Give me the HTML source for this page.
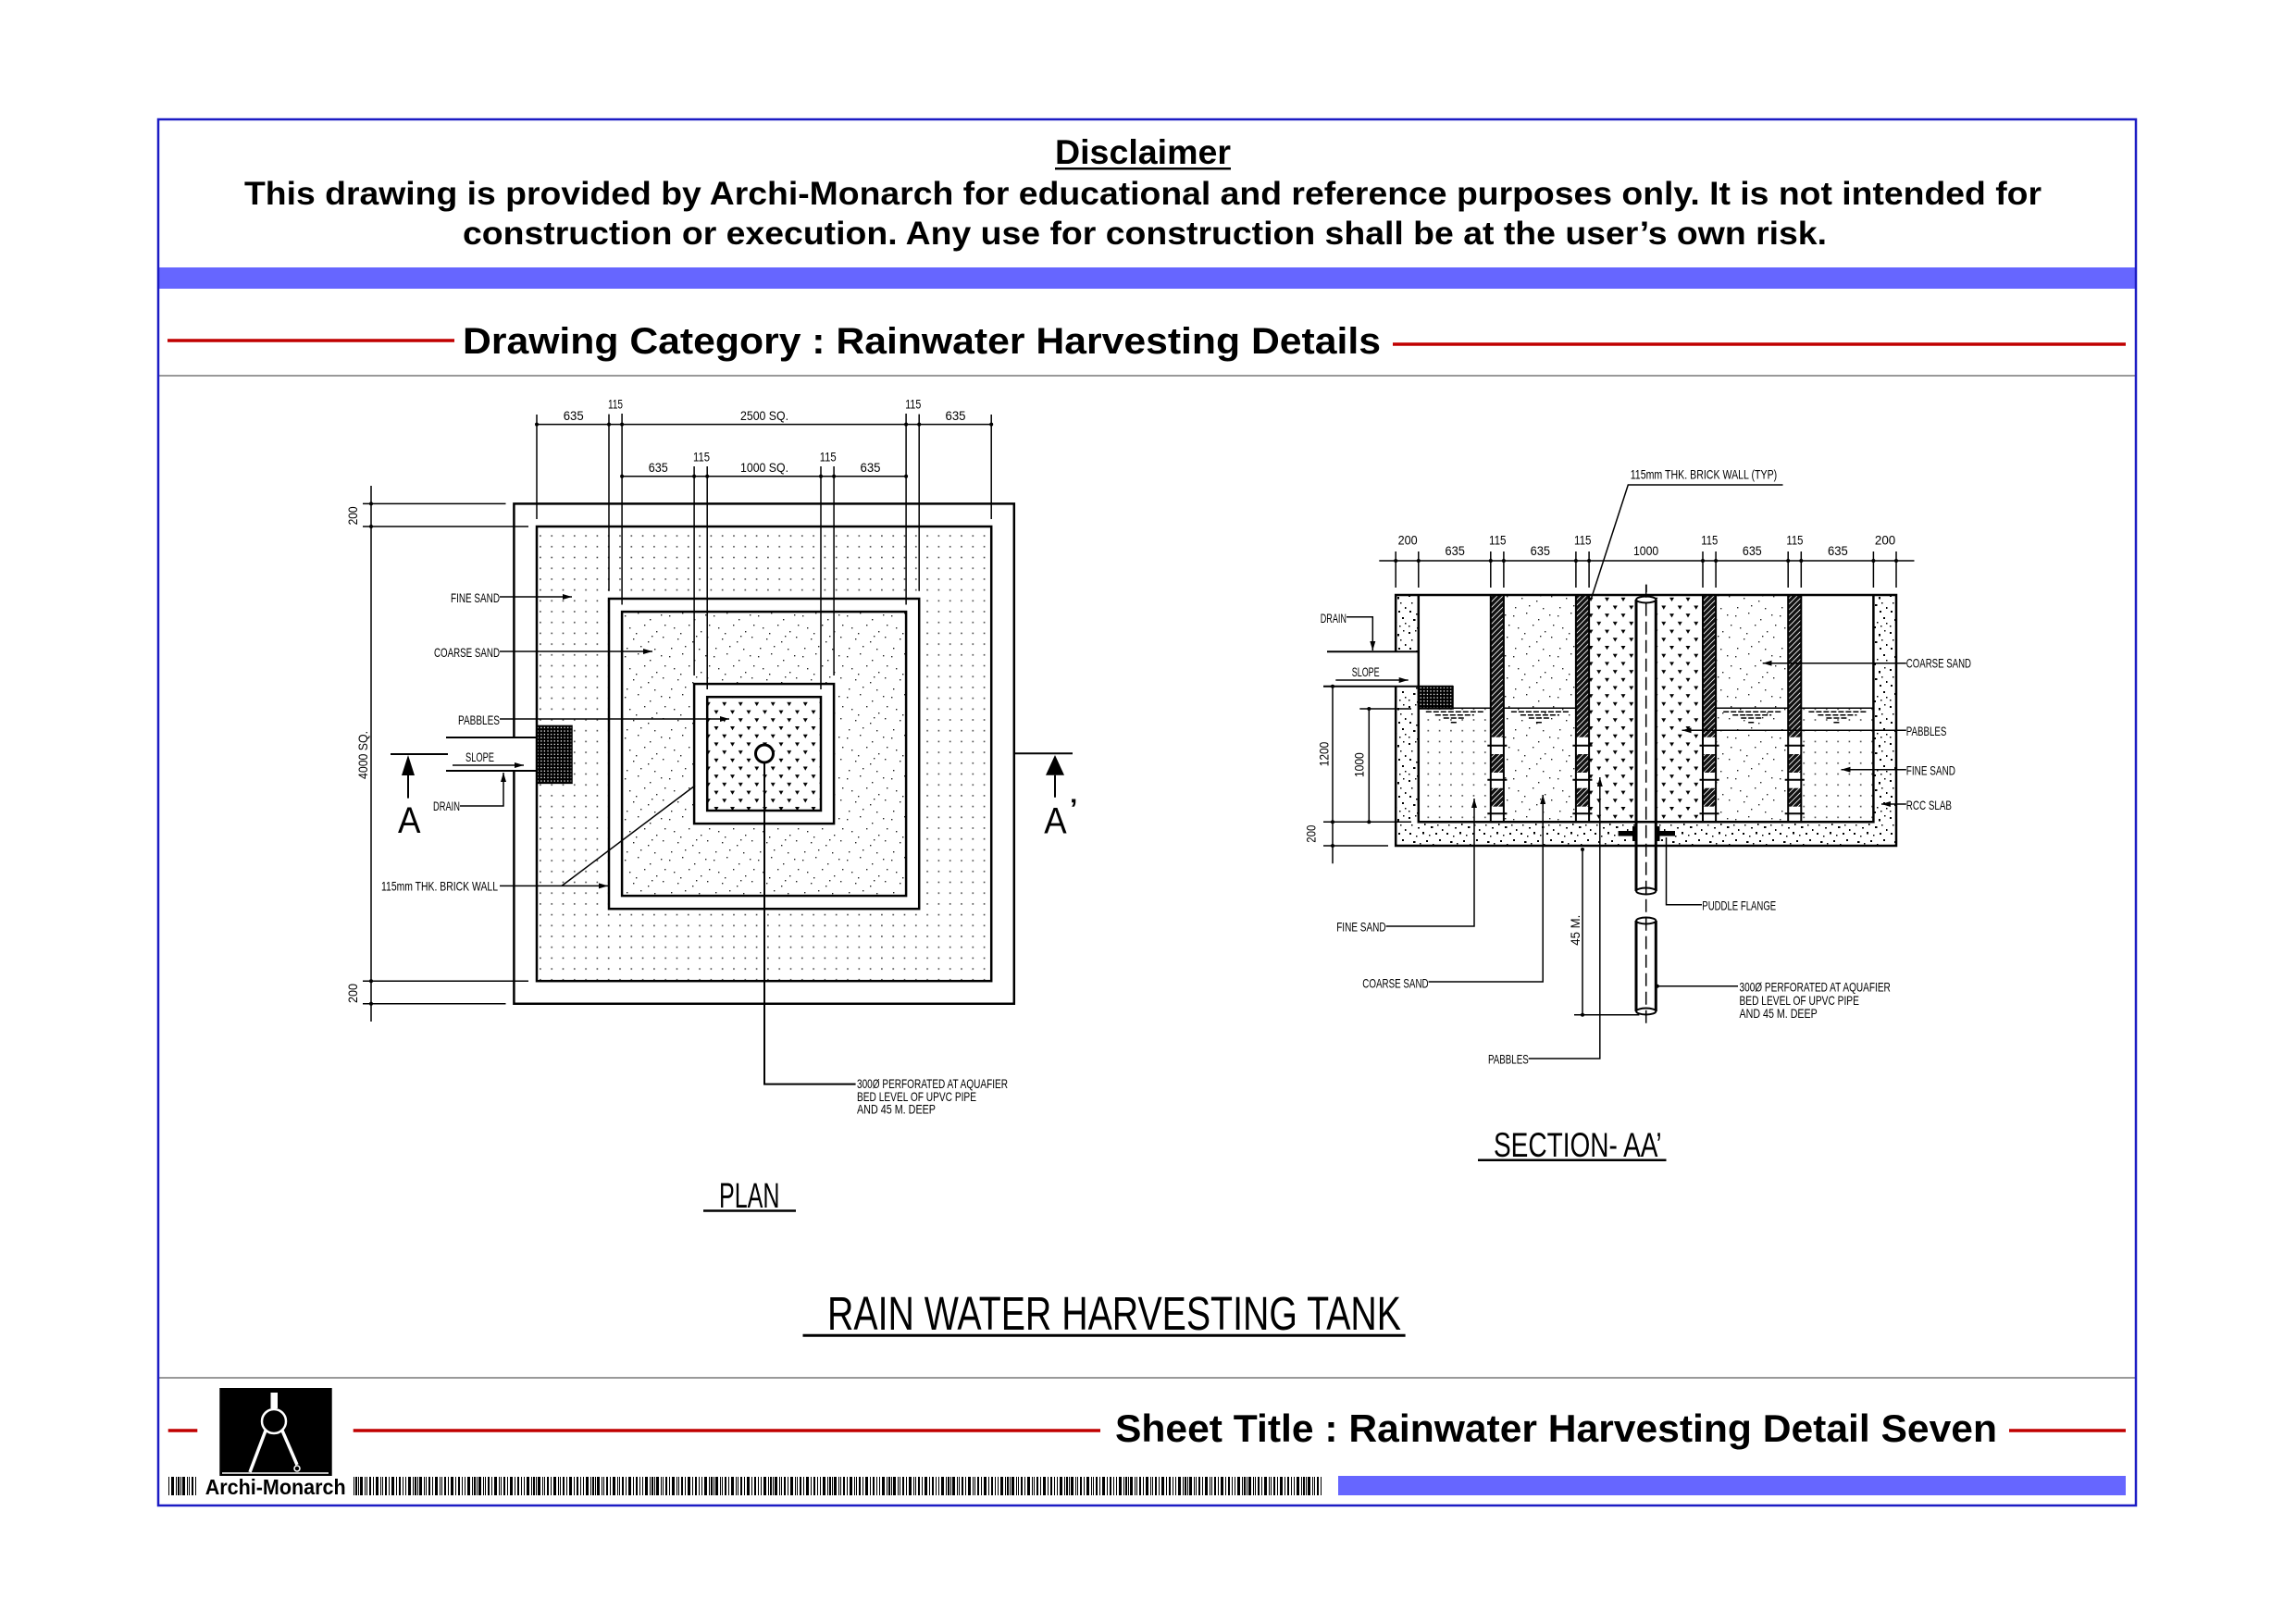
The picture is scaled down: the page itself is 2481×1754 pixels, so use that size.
<!DOCTYPE html>
<html><head><meta charset="utf-8"><style>html,body{margin:0;padding:0;background:#fff}svg{display:block}</style></head>
<body>
<svg xmlns="http://www.w3.org/2000/svg" width="2481" height="1754" viewBox="0 0 2481 1754" font-family="'Liberation Sans', Arial, sans-serif">
<defs>
<pattern id="fine" width="12.3" height="11.7" patternUnits="userSpaceOnUse"><rect x="5" y="5" width="1.6" height="1.6" fill="#444"/></pattern>
<pattern id="coarse" width="48" height="44" patternUnits="userSpaceOnUse">
<g fill="#222"><rect x="3" y="5" width="1.4" height="1.4"/><rect x="17" y="2" width="1.4" height="1.4"/><rect x="30" y="9" width="1.4" height="1.4"/><rect x="42" y="4" width="1.4" height="1.4"/><rect x="8" y="18" width="1.4" height="1.4"/><rect x="24" y="15" width="1.4" height="1.4"/><rect x="37" y="22" width="1.4" height="1.4"/><rect x="12" y="30" width="1.4" height="1.4"/><rect x="28" y="33" width="1.4" height="1.4"/><rect x="44" y="28" width="1.4" height="1.4"/><rect x="5" y="40" width="1.4" height="1.4"/><rect x="20" y="38" width="1.4" height="1.4"/><rect x="35" y="41" width="1.4" height="1.4"/><rect x="46" y="15" width="1.4" height="1.4"/><rect x="15" y="24" width="1.4" height="1.4"/><rect x="32" y="27" width="1.4" height="1.4"/></g></pattern>
<pattern id="peb" width="17.5" height="17.4" patternUnits="userSpaceOnUse"><path d="M1.5,2 h5 l-2.5,4.2 z M10.25,10.7 h5 l-2.5,4.2 z" fill="#000"/></pattern>
<pattern id="mesh" width="3.6" height="3.6" patternUnits="userSpaceOnUse"><rect width="3.6" height="3.6" fill="#000"/><rect x="1" y="1" width="1.3" height="1.3" fill="#fff"/></pattern>
<pattern id="brick" width="6" height="6" patternUnits="userSpaceOnUse"><rect width="6" height="6" fill="#111"/><path d="M0,6 L6,0 M-1,1 L1,-1 M5,7 L7,5" stroke="#fff" stroke-width="0.8"/></pattern>
<pattern id="conc" width="40" height="40" patternUnits="userSpaceOnUse"><rect width="40" height="40" fill="#fff"/>
<g fill="#000"><rect x="2" y="3" width="2" height="2"/><rect x="9" y="1" width="1.5" height="1.5"/><rect x="15" y="6" width="2.5" height="2"/><rect x="22" y="2" width="1.5" height="1.5"/><rect x="30" y="5" width="2" height="2.5"/><rect x="36" y="1" width="1.5" height="1.5"/><rect x="5" y="11" width="1.5" height="1.5"/><rect x="12" y="14" width="2" height="1.5"/><rect x="19" y="10" width="1.5" height="2"/><rect x="26" y="13" width="2.5" height="2"/><rect x="33" y="11" width="1.5" height="1.5"/><rect x="38" y="16" width="1.5" height="2"/><rect x="3" y="20" width="2" height="2"/><rect x="10" y="23" width="1.5" height="1.5"/><rect x="17" y="19" width="2" height="2.5"/><rect x="24" y="22" width="1.5" height="1.5"/><rect x="31" y="20" width="2" height="2"/><rect x="7" y="29" width="2.5" height="2"/><rect x="14" y="31" width="1.5" height="1.5"/><rect x="21" y="28" width="2" height="2"/><rect x="28" y="32" width="1.5" height="1.5"/><rect x="35" y="27" width="2" height="2"/><rect x="2" y="36" width="1.5" height="1.5"/><rect x="11" y="38" width="2" height="1.5"/><rect x="18" y="35" width="1.5" height="1.5"/><rect x="25" y="37" width="2" height="2"/><rect x="32" y="36" width="1.5" height="1.5"/><rect x="38" y="33" width="1.5" height="1.5"/></g></pattern>
<pattern id="bar" width="64" height="20" patternUnits="userSpaceOnUse"><g fill="#000"><rect x="0" width="2" height="20"/><rect x="3" width="1" height="20"/><rect x="5" width="3" height="20"/><rect x="10" width="1" height="20"/><rect x="12" width="1" height="20"/><rect x="15" width="2" height="20"/><rect x="19" width="1" height="20"/><rect x="22" width="3" height="20"/><rect x="27" width="1" height="20"/><rect x="29" width="1" height="20"/><rect x="32" width="2" height="20"/><rect x="36" width="1" height="20"/><rect x="39" width="3" height="20"/><rect x="44" width="1" height="20"/><rect x="47" width="2" height="20"/><rect x="51" width="1" height="20"/><rect x="54" width="1" height="20"/><rect x="57" width="3" height="20"/><rect x="62" width="1" height="20"/></g></pattern>
<marker id="ar" markerUnits="userSpaceOnUse" markerWidth="10" markerHeight="6" refX="10" refY="3" orient="auto"><path d="M0,0 L10,3 L0,6 z" fill="#000"/></marker>
</defs>

<rect width="2481" height="1754" fill="#fff"/>

<!-- HEADER -->
<text x="1140" y="177" font-size="37" font-weight="bold" textLength="190" lengthAdjust="spacingAndGlyphs">Disclaimer</text>
<rect x="1140" y="181" width="190" height="2.5" fill="#000"/>
<text x="264" y="221" font-size="35" font-weight="bold" textLength="1942" lengthAdjust="spacingAndGlyphs">This drawing is provided by Archi-Monarch for educational and reference purposes only. It is not intended for</text>
<text x="500" y="264" font-size="35" font-weight="bold" textLength="1474" lengthAdjust="spacingAndGlyphs">construction or execution. Any use for construction shall be at the user’s own risk.</text>
<rect x="172" y="289" width="2135" height="23" fill="#6666ff"/>
<line x1="181" y1="368" x2="491" y2="368" stroke="#c00000" stroke-width="3.5"/>
<text x="500" y="382" font-size="40" font-weight="bold" textLength="992" lengthAdjust="spacingAndGlyphs">Drawing Category : Rainwater Harvesting Details</text>
<line x1="1505" y1="372" x2="2297" y2="372" stroke="#c00000" stroke-width="3.5"/>
<line x1="172" y1="406" x2="2307" y2="406" stroke="#999" stroke-width="2"/>

<!-- FOOTER -->
<line x1="172" y1="1489" x2="2307" y2="1489" stroke="#999" stroke-width="2"/>
<line x1="181.7" y1="1546" x2="213.3" y2="1546" stroke="#c00000" stroke-width="3.5"/>
<line x1="381.7" y1="1546" x2="1189" y2="1546" stroke="#c00000" stroke-width="3.5"/>
<text x="1205" y="1558" font-size="42" font-weight="bold" textLength="953" lengthAdjust="spacingAndGlyphs">Sheet Title : Rainwater Harvesting Detail Seven</text>
<line x1="2171" y1="1546" x2="2297" y2="1546" stroke="#c00000" stroke-width="3.5"/>
<rect x="237.3" y="1500" width="121.4" height="95" fill="#000"/>
<g stroke="#fff" fill="none">
<rect x="292.5" y="1505" width="7.5" height="17" fill="#fff" stroke="none"/>
<circle cx="296" cy="1536" r="13" stroke-width="2.5"/>
<path d="M287,1546 L270,1591" stroke-width="3.5"/>
<path d="M305,1546 L321,1583" stroke-width="3.5"/>
<circle cx="321" cy="1587" r="3" stroke-width="1.5"/>
<path d="M240,1592 H355" stroke-width="1.5"/>
</g>
<rect x="181.7" y="1596" width="31" height="20" fill="url(#bar)"/>
<text x="221.7" y="1615" font-size="23" font-weight="bold" textLength="152" lengthAdjust="spacingAndGlyphs">Archi-Monarch</text>
<rect x="382" y="1596" width="1046" height="20" fill="url(#bar)"/>
<rect x="1446" y="1595" width="851" height="21" fill="#6666ff"/>

<rect x="171" y="129" width="2137" height="1498" fill="none" stroke="#1c1cc4" stroke-width="2.5"/>

<!-- PLAN -->
<rect x="580" y="569" width="491.2" height="491.2" fill="url(#fine)"/>
<rect x="658" y="647" width="335.2" height="335.2" fill="#fff"/>
<rect x="672.1" y="661.1" width="307" height="307" fill="url(#coarse)"/>
<rect x="750.1" y="739.1" width="151" height="151" fill="#fff"/>
<rect x="764.2" y="753.2" width="122.8" height="122.8" fill="url(#peb)"/>
<rect x="580" y="784.4" width="38" height="62" fill="url(#mesh)" stroke="#000" stroke-width="1.5"/>
<g fill="none" stroke="#000" stroke-width="2.5">
<path d="M555.4,797 V544.4 H1095.8 V1084.8 H555.4 V833"/>
<rect x="580" y="569" width="491.2" height="491.2"/>
<rect x="658" y="647" width="335.2" height="335.2"/>
<rect x="672.1" y="661.1" width="307" height="307"/>
<rect x="750.1" y="739.1" width="151" height="151"/>
<rect x="764.2" y="753.2" width="122.8" height="122.8"/>
</g>
<g fill="none" stroke="#000" stroke-width="2">
<path d="M482,797 H580 M482,833 H580"/>
</g>
<g fill="none" stroke="#000" stroke-width="1.5">
<path d="M580,448 V561 M658,447.6 V638.7 M672.1,447 V653.5 M979.1,447 V653.5 M993.2,447.6 V638.7 M1071.2,448 V561"/>
<path d="M580,458.6 H1071.2"/>
<path d="M750.1,504 V730 M764.2,504 V745 M887,504 V745 M901.1,504 V730"/>
<path d="M672.1,514.7 H979.1"/>
<path d="M401,525 V1104 M392,544.4 H546.5 M392,569 H571 M392,1060.2 H571 M392,1084.8 H546.5"/>
</g>
<g fill="#000">
<circle cx="580" cy="458.6" r="2"/><circle cx="658" cy="458.6" r="2"/><circle cx="672.1" cy="458.6" r="2"/><circle cx="979.1" cy="458.6" r="2"/><circle cx="993.2" cy="458.6" r="2"/><circle cx="1071.2" cy="458.6" r="2"/>
<circle cx="672.1" cy="514.7" r="2"/><circle cx="750.1" cy="514.7" r="2"/><circle cx="764.2" cy="514.7" r="2"/><circle cx="887" cy="514.7" r="2"/><circle cx="901.1" cy="514.7" r="2"/><circle cx="979.1" cy="514.7" r="2"/>
<circle cx="401" cy="544.4" r="2"/><circle cx="401" cy="569" r="2"/><circle cx="401" cy="1060.2" r="2"/><circle cx="401" cy="1084.8" r="2"/>
</g>
<g font-size="14" fill="#000" lengthAdjust="spacingAndGlyphs">
<text x="608.7" y="454" textLength="22" lengthAdjust="spacingAndGlyphs">635</text>
<text x="657" y="441.4" textLength="16" lengthAdjust="spacingAndGlyphs">115</text>
<text x="800" y="454" textLength="52" lengthAdjust="spacingAndGlyphs">2500 SQ.</text>
<text x="978.3" y="441.4" textLength="17" lengthAdjust="spacingAndGlyphs">115</text>
<text x="1021.5" y="454" textLength="22" lengthAdjust="spacingAndGlyphs">635</text>
<text x="700.7" y="510.2" textLength="21" lengthAdjust="spacingAndGlyphs">635</text>
<text x="749" y="498.5" textLength="18" lengthAdjust="spacingAndGlyphs">115</text>
<text x="800" y="510.2" textLength="52" lengthAdjust="spacingAndGlyphs">1000 SQ.</text>
<text x="885.7" y="498.5" textLength="18" lengthAdjust="spacingAndGlyphs">115</text>
<text x="929.5" y="510.2" textLength="22" lengthAdjust="spacingAndGlyphs">635</text>
<text transform="translate(386,567.4) rotate(-90)" textLength="20" lengthAdjust="spacingAndGlyphs">200</text>
<text transform="translate(397,842) rotate(-90)" textLength="52" lengthAdjust="spacingAndGlyphs">4000 SQ.</text>
<text transform="translate(386,1084) rotate(-90)" textLength="21" lengthAdjust="spacingAndGlyphs">200</text>
<text x="487" y="651" textLength="53" lengthAdjust="spacingAndGlyphs">FINE SAND</text>
<text x="469" y="710" textLength="71" lengthAdjust="spacingAndGlyphs">COARSE SAND</text>
<text x="495" y="783" textLength="45" lengthAdjust="spacingAndGlyphs">PABBLES</text>
<text x="503" y="823" textLength="31" lengthAdjust="spacingAndGlyphs">SLOPE</text>
<text x="468" y="876" textLength="29" lengthAdjust="spacingAndGlyphs">DRAIN</text>
<text x="412" y="962.5" textLength="126" lengthAdjust="spacingAndGlyphs">115mm THK. BRICK WALL</text>
<text x="926" y="1176" textLength="163" lengthAdjust="spacingAndGlyphs">300Ø PERFORATED AT AQUAFIER</text>
<text x="926" y="1190" textLength="129" lengthAdjust="spacingAndGlyphs">BED LEVEL OF UPVC PIPE</text>
<text x="926" y="1203.5" textLength="85" lengthAdjust="spacingAndGlyphs">AND 45 M. DEEP</text>
</g>
<g fill="none" stroke="#000" stroke-width="1.5">
<path d="M540,645 H618" marker-end="url(#ar)"/>
<path d="M540,704 H705" marker-end="url(#ar)"/>
<path d="M540,777 H788" marker-end="url(#ar)"/>
<path d="M489,827 H566" marker-end="url(#ar)"/>
<path d="M497,871 H544 V835" marker-end="url(#ar)"/>
<path d="M540,957.4 H657" marker-end="url(#ar)"/>
<path d="M607,957.4 L751,849"/>
<path d="M826,824 V1171.6 H924.6" stroke-width="2"/>
</g>
<circle cx="826" cy="814.5" r="9.5" fill="#fff" stroke="#000" stroke-width="3"/>
<!-- section markers -->
<g stroke="#000" stroke-width="2" fill="none">
<path d="M422,815 H484 M441,838 V862.6"/>
<path d="M1096,814.3 H1159 M1140,837.7 V861.7"/>
</g>
<path d="M441,816 L434,838 L448,838 Z M1140,816 L1130,837.7 L1150,837.7 Z" fill="#000"/>
<text x="430" y="900" font-size="40" textLength="24.5" lengthAdjust="spacingAndGlyphs">A</text>
<text x="1128.3" y="900.7" font-size="40" textLength="24.4" lengthAdjust="spacingAndGlyphs">A</text>
<text x="1156" y="884" font-size="30" font-weight="bold">’</text>
<text x="777" y="1305" font-size="38" textLength="65.5" lengthAdjust="spacingAndGlyphs">PLAN</text>
<line x1="760" y1="1308.5" x2="860" y2="1308.5" stroke="#000" stroke-width="2.5"/>

<text x="894" y="1437" font-size="51" textLength="620" lengthAdjust="spacingAndGlyphs">RAIN  WATER  HARVESTING  TANK</text>
<line x1="867.5" y1="1443.3" x2="1518.6" y2="1443.3" stroke="#000" stroke-width="3"/>

<!-- SECTION -->
<rect x="1508.2" y="643" width="24.6" height="61" fill="url(#conc)"/>
<rect x="1508.2" y="741.7" width="24.6" height="146.6" fill="url(#conc)"/>
<rect x="1508.2" y="888.3" width="540.8" height="25.7" fill="url(#conc)"/>
<rect x="2024.4" y="643" width="24.6" height="245.3" fill="url(#conc)"/>
<rect x="1532.8" y="765.3" width="78" height="123" fill="url(#fine)"/>
<rect x="1624.9" y="643" width="78" height="245.3" fill="url(#coarse)"/>
<rect x="1717.1" y="643" width="122.9" height="245.3" fill="url(#peb)"/>
<rect x="1854.1" y="643" width="78.1" height="245.3" fill="url(#coarse)"/>
<rect x="1946.3" y="765.3" width="78.1" height="123" fill="url(#fine)"/>
<rect x="1532.8" y="741.7" width="37.2" height="24.3" fill="url(#mesh)" stroke="#000" stroke-width="1.5"/>
<!-- walls -->
<g>
<rect x="1610.8" y="643" width="14.1" height="153.7" fill="url(#brick)"/><rect x="1610.8" y="815" width="14.1" height="20" fill="url(#brick)"/><rect x="1610.8" y="851.7" width="14.1" height="20" fill="url(#brick)"/>
<rect x="1702.9" y="643" width="14.1" height="153.7" fill="url(#brick)"/><rect x="1702.9" y="815" width="14.1" height="20" fill="url(#brick)"/><rect x="1702.9" y="851.7" width="14.1" height="20" fill="url(#brick)"/>
<rect x="1840" y="643" width="14.1" height="153.7" fill="url(#brick)"/><rect x="1840" y="815" width="14.1" height="20" fill="url(#brick)"/><rect x="1840" y="851.7" width="14.1" height="20" fill="url(#brick)"/>
<rect x="1932.2" y="643" width="14.1" height="153.7" fill="url(#brick)"/><rect x="1932.2" y="815" width="14.1" height="20" fill="url(#brick)"/><rect x="1932.2" y="851.7" width="14.1" height="20" fill="url(#brick)"/>
</g>
<g fill="none" stroke="#000" stroke-width="2">
<path d="M1610.8,643 V888.3 M1624.9,643 V888.3 M1702.9,643 V888.3 M1717.1,643 V888.3 M1840,643 V888.3 M1854.1,643 V888.3 M1932.2,643 V888.3 M1946.3,643 V888.3"/>
<path d="M1607.3,805.7 H1628.4 M1607.3,842.7 H1628.4 M1607.3,879.3 H1628.4"/>
<path d="M1699.4,805.7 H1720.5 M1699.4,842.7 H1720.5 M1699.4,879.3 H1720.5"/>
<path d="M1836.5,805.7 H1857.6 M1836.5,842.7 H1857.6 M1836.5,879.3 H1857.6"/>
<path d="M1928.7,805.7 H1949.8 M1928.7,842.7 H1949.8 M1928.7,879.3 H1949.8"/>
</g>
<!-- water lines -->
<g fill="none" stroke="#000" stroke-width="1.5">
<path d="M1532.8,765.3 H1610.8 M1624.9,765.3 H1702.9 M1854.1,765.3 H1932.2 M1946.3,765.3 H2024.4"/>
</g>
<g fill="none" stroke="#000" stroke-width="1.5" stroke-dasharray="6 2">
<path d="M1540.8,769.3 h62 M1550.8,772.7 h42 M1559.8,776 h24 M1567.8,780.7 h8"/>
<path d="M1632.9,769.3 h62 M1642.9,772.7 h42 M1651.9,776 h24 M1659.9,780.7 h8"/>
<path d="M1862.2,769.3 h62 M1872.2,772.7 h42 M1881.2,776 h24 M1889.2,780.7 h8"/>
<path d="M1954.4,769.3 h62 M1964.4,772.7 h42 M1973.4,776 h24 M1981.4,780.7 h8"/>
</g>
<!-- pipe -->
<rect x="1768" y="646.7" width="21.3" height="318.3" fill="#fff"/>
<rect x="1768" y="993.3" width="21.3" height="101.7" fill="#fff"/>
<g fill="none" stroke="#000" stroke-width="3">
<path d="M1768,648 V963 M1789.3,648 V963 M1768,995 V1093 M1789.3,995 V1093"/>
</g>
<g fill="#fff" stroke="#000" stroke-width="2">
<ellipse cx="1778.7" cy="648" rx="10.6" ry="3.5"/><ellipse cx="1778.7" cy="963" rx="10.6" ry="3.5"/>
<ellipse cx="1778.7" cy="995" rx="10.6" ry="3.5"/><ellipse cx="1778.7" cy="1093" rx="10.6" ry="3.5"/>
</g>
<path d="M1778.7,631.7 V1110" stroke="#000" stroke-width="1.5" stroke-dasharray="14 6"/>
<rect x="1748.6" y="898" width="19.4" height="5.5" fill="#000"/>
<rect x="1789.3" y="898" width="20.7" height="5.5" fill="#000"/>
<rect x="1764" y="893" width="3" height="16" fill="#000"/><rect x="1790.5" y="893" width="3" height="16" fill="#000"/>
<!-- tank outline -->
<g fill="none" stroke="#000" stroke-width="2.5">
<path d="M1508.2,704 V643 H2049 V914 H1508.2 V741.7"/>
<path d="M1532.8,643 V888.3 H2024.4 V643"/>
</g>
<g fill="none" stroke="#000" stroke-width="2">
<path d="M1434,704.3 H1532.8 M1430,741.7 H1570"/>
</g>
<!-- section dims -->
<g fill="none" stroke="#000" stroke-width="1.5">
<path d="M1490.3,606 H2068.5"/>
<path d="M1508.2,596 V635 M1532.8,596 V635 M1610.8,596 V635 M1624.9,596 V635 M1702.9,596 V635 M1717.1,596 V635 M1840,596 V635 M1854.1,596 V635 M1932.2,596 V635 M1946.3,596 V635 M2024.4,596 V635 M2049,596 V635"/>
<path d="M1440,741.7 V933.3 M1479.3,766 V888.3 M1469.3,766 H1525 M1430,888.3 H1525 M1430,914 H1500"/>
<path d="M1710,918 V1096.7 M1701,1096.7 H1771.4"/>
<path d="M1779,631.7 V640" />
</g>
<g fill="#000">
<circle cx="1508.2" cy="606" r="2"/><circle cx="1532.8" cy="606" r="2"/><circle cx="1610.8" cy="606" r="2"/><circle cx="1624.9" cy="606" r="2"/><circle cx="1702.9" cy="606" r="2"/><circle cx="1717.1" cy="606" r="2"/><circle cx="1840" cy="606" r="2"/><circle cx="1854.1" cy="606" r="2"/><circle cx="1932.2" cy="606" r="2"/><circle cx="1946.3" cy="606" r="2"/><circle cx="2024.4" cy="606" r="2"/><circle cx="2049" cy="606" r="2"/>
<circle cx="1440" cy="741.7" r="2"/><circle cx="1440" cy="888.3" r="2"/><circle cx="1440" cy="914" r="2"/><circle cx="1479.3" cy="766" r="2"/><circle cx="1479.3" cy="888.3" r="2"/>
<circle cx="1710" cy="918" r="2"/><circle cx="1710" cy="1096.7" r="2"/><circle cx="1790.8" cy="1065.7" r="2"/>
</g>
<g fill="none" stroke="#000" stroke-width="1.5">
<path d="M1455,666.7 H1483.3 V703" marker-end="url(#ar)"/>
<path d="M1443.3,735 H1521.7" marker-end="url(#ar)"/>
<path d="M1497.6,1001 H1593 V863" marker-end="url(#ar)"/>
<path d="M1543.6,1061 H1667.2 V859" marker-end="url(#ar)"/>
<path d="M1651.7,1144 H1728.8 V840" marker-end="url(#ar)"/>
<path d="M1839,977.7 H1800.5 V905"/>
<path d="M1790.8,1065.7 H1878"/>
<path d="M2059.8,716.7 H1904.7" marker-end="url(#ar)"/>
<path d="M2059.8,789.3 H1817.5" marker-end="url(#ar)"/>
<path d="M2059.8,831.7 H1989.5" marker-end="url(#ar)"/>
<path d="M2059.8,869 H2033" marker-end="url(#ar)"/>
<path d="M1926.5,524 H1759.3 L1719.5,646.7"/>
</g>
<g font-size="14" fill="#000">
<text x="1761.7" y="517.3" textLength="158.5" lengthAdjust="spacingAndGlyphs">115mm THK. BRICK WALL (TYP)</text>
<text x="1510.6" y="588.3" textLength="21" lengthAdjust="spacingAndGlyphs">200</text>
<text x="1561.5" y="600" textLength="21.4" lengthAdjust="spacingAndGlyphs">635</text>
<text x="1609" y="588.3" textLength="18.5" lengthAdjust="spacingAndGlyphs">115</text>
<text x="1653.6" y="600" textLength="21.4" lengthAdjust="spacingAndGlyphs">635</text>
<text x="1701" y="588.3" textLength="18.5" lengthAdjust="spacingAndGlyphs">115</text>
<text x="1765" y="600" textLength="27.2" lengthAdjust="spacingAndGlyphs">1000</text>
<text x="1838.3" y="588.3" textLength="18" lengthAdjust="spacingAndGlyphs">115</text>
<text x="1882.9" y="600" textLength="20.8" lengthAdjust="spacingAndGlyphs">635</text>
<text x="1930.4" y="588.3" textLength="18" lengthAdjust="spacingAndGlyphs">115</text>
<text x="1975" y="600" textLength="21.8" lengthAdjust="spacingAndGlyphs">635</text>
<text x="2025.9" y="588.3" textLength="22.3" lengthAdjust="spacingAndGlyphs">200</text>
<text x="1426.7" y="673" textLength="28.3" lengthAdjust="spacingAndGlyphs">DRAIN</text>
<text x="1460.7" y="731" textLength="30" lengthAdjust="spacingAndGlyphs">SLOPE</text>
<text transform="translate(1435.5,828.3) rotate(-90)" textLength="26.6" lengthAdjust="spacingAndGlyphs">1200</text>
<text transform="translate(1473.5,840) rotate(-90)" textLength="26.7" lengthAdjust="spacingAndGlyphs">1000</text>
<text transform="translate(1421.7,910.7) rotate(-90)" textLength="19" lengthAdjust="spacingAndGlyphs">200</text>
<text transform="translate(1707,1021.7) rotate(-90)" textLength="33" lengthAdjust="spacingAndGlyphs">45 M.</text>
<text x="2059.8" y="721.7" textLength="70.2" lengthAdjust="spacingAndGlyphs">COARSE SAND</text>
<text x="2059.8" y="795" textLength="43.6" lengthAdjust="spacingAndGlyphs">PABBLES</text>
<text x="2059.8" y="837.3" textLength="53.2" lengthAdjust="spacingAndGlyphs">FINE SAND</text>
<text x="2059.8" y="875" textLength="49.2" lengthAdjust="spacingAndGlyphs">RCC SLAB</text>
<text x="1839.3" y="983.3" textLength="79.9" lengthAdjust="spacingAndGlyphs">PUDDLE FLANGE</text>
<text x="1444.2" y="1006.7" textLength="53.4" lengthAdjust="spacingAndGlyphs">FINE SAND</text>
<text x="1472.3" y="1067.3" textLength="71.3" lengthAdjust="spacingAndGlyphs">COARSE SAND</text>
<text x="1608" y="1149.3" textLength="43.7" lengthAdjust="spacingAndGlyphs">PABBLES</text>
<text x="1879.5" y="1071.7" textLength="163.3" lengthAdjust="spacingAndGlyphs">300Ø PERFORATED AT AQUAFIER</text>
<text x="1879.5" y="1086" textLength="129.4" lengthAdjust="spacingAndGlyphs">BED LEVEL OF UPVC PIPE</text>
<text x="1879.5" y="1100" textLength="84.3" lengthAdjust="spacingAndGlyphs">AND 45 M. DEEP</text>
</g>
<text x="1614" y="1250" font-size="37" textLength="181.6" lengthAdjust="spacingAndGlyphs">SECTION-  AA’</text>
<line x1="1597" y1="1253.8" x2="1800.5" y2="1253.8" stroke="#000" stroke-width="2.5"/>
</svg>
</body></html>
